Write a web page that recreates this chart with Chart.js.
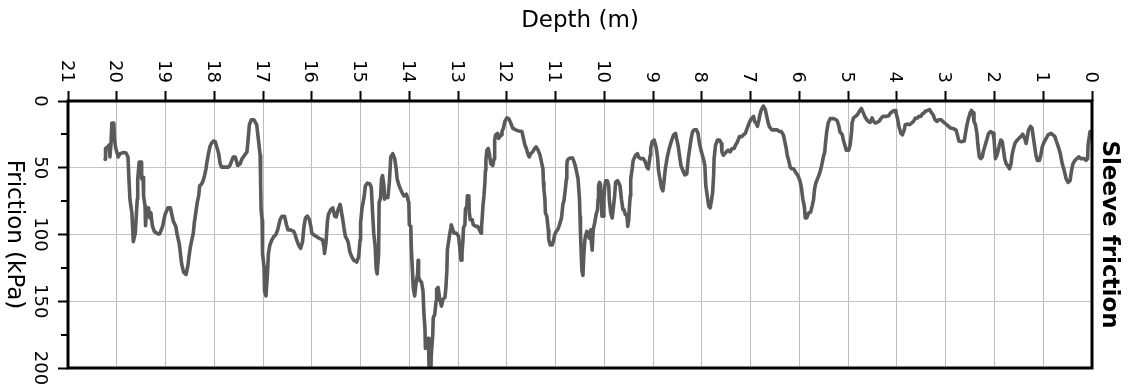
<!DOCTYPE html>
<html>
<head>
<meta charset="utf-8">
<title>Sleeve friction</title>
<script src="https://cdn.jsdelivr.net/npm/chart.js@4.4.1/dist/chart.umd.min.js"></script>
<style>
  html, body { margin: 0; padding: 0; background: #fff; }
  canvas { display: block; }
</style>
</head>
<body>
<canvas id="chart" width="1132" height="387"></canvas>
<script>
// Sleeve friction log (kPa) against depth (m)
const depth = [
  20.24, 20.23, 20.18, 20.16, 20.14, 20.12, 20.10, 20.06, 20.05, 20.02,
  19.99, 19.97, 19.93, 19.86, 19.81, 19.77, 19.75, 19.73, 19.69, 19.66,
  19.62, 19.60, 19.58, 19.57, 19.54, 19.50, 19.49, 19.46, 19.45, 19.42,
  19.41, 19.39, 19.35, 19.32, 19.30, 19.27, 19.23, 19.16, 19.12, 19.06,
  19.01, 18.95, 18.90, 18.87, 18.84, 18.79, 18.76, 18.72, 18.69, 18.67,
  18.63, 18.58, 18.54, 18.52, 18.49, 18.46, 18.43, 18.41, 18.38, 18.35,
  18.32, 18.30, 18.26, 18.23, 18.20, 18.17, 18.15, 18.12, 18.09, 18.06,
  18.02, 17.98, 17.95, 17.91, 17.88, 17.85, 17.78, 17.71, 17.68, 17.64,
  17.61,
  17.57, 17.52, 17.47, 17.43, 17.38, 17.33, 17.31, 17.28, 17.24, 17.19,
  17.13, 17.09, 17.06, 17.05, 17.04, 17.02, 17.01, 16.98, 16.97, 16.94,
  16.91, 16.89, 16.86, 16.82, 16.78, 16.74, 16.70, 16.65, 16.61, 16.56,
  16.52, 16.49, 16.44, 16.37, 16.34, 16.31, 16.27, 16.23, 16.19, 16.16,
  16.13, 16.09, 16.05, 16.02, 16.00, 15.96, 15.90, 15.85, 15.78, 15.75,
  15.74, 15.71, 15.68, 15.66, 15.61, 15.57, 15.53, 15.50, 15.46, 15.42,
  15.40, 15.37, 15.34, 15.31, 15.27, 15.25, 15.22, 15.18, 15.14, 15.08,
  15.04, 15.01, 15.00, 14.97, 14.93, 14.90, 14.86, 14.81, 14.78, 14.75,
  14.73, 14.70, 14.68, 14.66, 14.63, 14.62, 14.59, 14.57, 14.55, 14.52,
  14.51, 14.48, 14.44, 14.41, 14.38, 14.34, 14.30, 14.27, 14.25, 14.21,
  14.18, 14.15, 14.11,
  14.06, 14.01, 14.00, 13.97, 13.96, 13.94, 13.92, 13.89, 13.86, 13.83,
  13.82, 13.81, 13.78, 13.75, 13.72, 13.70, 13.68, 13.67, 13.64, 13.61,
  13.60, 13.59, 13.56, 13.55, 13.52, 13.51, 13.48, 13.45, 13.44, 13.41,
  13.37, 13.34, 13.31, 13.27, 13.25, 13.23, 13.22, 13.20, 13.18, 13.15,
  13.14, 13.11, 13.08, 13.04, 13.01, 12.99, 12.96, 12.94, 12.92, 12.90,
  12.89, 12.86, 12.85, 12.82, 12.81, 12.78, 12.77, 12.75, 12.71, 12.69,
  12.64, 12.60, 12.58, 12.53, 12.52, 12.49, 12.47, 12.45, 12.44, 12.43,
  12.41, 12.38, 12.36, 12.33, 12.29, 12.26, 12.25, 12.23, 12.19, 12.17,
  12.12, 12.10, 12.07, 12.04, 12.00, 11.96, 11.92, 11.88, 11.82, 11.76,
  11.69, 11.66, 11.63, 11.60, 11.56, 11.54, 11.51, 11.47, 11.43, 11.40,
  11.36, 11.32, 11.29, 11.26, 11.25, 11.24, 11.22, 11.21, 11.18, 11.15,
  11.14, 11.11, 11.07, 11.04, 11.02, 10.99, 10.96, 10.93, 10.91, 10.88,
  10.85, 10.83, 10.80, 10.78, 10.77, 10.76, 10.73, 10.69, 10.65, 10.62,
  10.59,
  10.54, 10.51, 10.50, 10.49, 10.47, 10.46, 10.44, 10.42, 10.40, 10.39,
  10.36, 10.34, 10.31, 10.28, 10.27, 10.25, 10.23, 10.20, 10.17, 10.14,
  10.13, 10.12, 10.10, 10.08, 10.06, 10.05, 10.02, 10.01, 9.99, 9.97,
  9.94, 9.91, 9.90, 9.87, 9.84, 9.82, 9.79, 9.77, 9.73, 9.71,
  9.68, 9.65, 9.62, 9.60, 9.57, 9.54, 9.52, 9.50, 9.49, 9.47,
  9.46, 9.43, 9.41, 9.36, 9.32, 9.30, 9.25, 9.20, 9.16, 9.13,
  9.10, 9.08, 9.06, 9.05, 9.02, 8.98, 8.94, 8.91, 8.89, 8.86,
  8.83, 8.80, 8.78, 8.75, 8.71, 8.67, 8.63, 8.58, 8.54, 8.52,
  8.49, 8.46, 8.43, 8.39, 8.35, 8.31, 8.28, 8.24, 8.22, 8.19,
  8.16, 8.11, 8.08, 8.05, 8.01, 7.97, 7.94, 7.92, 7.89, 7.86,
  7.83, 7.80, 7.78, 7.76, 7.75, 7.72, 7.68, 7.64, 7.60, 7.59,
  7.56, 7.53, 7.50, 7.46, 7.42, 7.38, 7.34, 7.31, 7.27, 7.23,
  7.18, 7.15, 7.11,
  7.04, 7.00, 6.97, 6.94, 6.92, 6.89, 6.86, 6.83, 6.81, 6.78,
  6.74, 6.70, 6.67, 6.64, 6.62, 6.57, 6.52, 6.46, 6.41, 6.37,
  6.33, 6.30, 6.27, 6.25, 6.22, 6.19, 6.16, 6.12, 6.08, 6.03,
  5.99, 5.96, 5.93, 5.90, 5.88, 5.85, 5.81, 5.77, 5.74, 5.71,
  5.69, 5.66, 5.63, 5.59, 5.56, 5.53, 5.51, 5.48, 5.47, 5.44,
  5.41, 5.37, 5.30, 5.25, 5.22, 5.19, 5.17, 5.12, 5.10, 5.07,
  5.04, 4.99, 4.96, 4.93, 4.92, 4.89, 4.85, 4.81, 4.77, 4.73,
  4.69, 4.66, 4.62, 4.59, 4.55, 4.51, 4.48, 4.44, 4.40, 4.37,
  4.33, 4.29, 4.25, 4.21, 4.17, 4.13, 4.09, 4.04, 4.02, 3.99,
  3.96, 3.92, 3.89, 3.85, 3.83, 3.79, 3.74, 3.70, 3.66, 3.62,
  3.58, 3.55, 3.51, 3.48, 3.44, 3.42, 3.37, 3.33, 3.29, 3.26,
  3.22, 3.18, 3.14, 3.10, 3.06, 3.02, 2.98, 2.94, 2.90, 2.84,
  2.79, 2.76, 2.73, 2.68, 2.62, 2.60, 2.57, 2.54, 2.50, 2.47,
  2.44, 2.42, 2.39, 2.36, 2.34, 2.31, 2.28, 2.25, 2.23, 2.20,
  2.17, 2.14, 2.12, 2.08, 2.03, 2.01, 1.98, 1.95, 1.93, 1.90,
  1.87, 1.84, 1.82, 1.79, 1.76, 1.73, 1.69, 1.66, 1.64, 1.61,
  1.58, 1.56, 1.53, 1.50, 1.46, 1.42, 1.38, 1.35, 1.32, 1.30,
  1.26, 1.23, 1.20, 1.17, 1.15, 1.12, 1.08, 1.05, 1.02, 0.98,
  0.94, 0.90, 0.84, 0.80, 0.76, 0.74, 0.69, 0.65, 0.61, 0.57,
  0.53, 0.49, 0.45, 0.42, 0.39, 0.35, 0.31, 0.27, 0.23, 0.20,
  0.16, 0.12, 0.09, 0.08, 0.06, 0.04
];

const friction = [
  43.7, 35.6, 34.3, 33, 41.9, 33, 16.5, 16.5, 28, 35.6,
  39.4, 41.9, 39.4, 38.6, 38.9, 41.9, 58.4, 73.6, 83.8, 105.4,
  99, 86.3, 73.6, 58.4, 45.7, 45.7, 58.4, 57.1, 71.1, 78.7,
  93.4, 81.3, 80, 87.6, 83.8, 93.4, 97.7, 99.5, 99.5, 93.9,
  85.1, 80, 80, 85.1, 90.1, 93.9, 100.3, 106.6, 115.5, 121.9,
  128.2, 130, 123.1, 116.8, 109.2, 104.1, 99, 91.4, 83.8, 76.2,
  71.1, 63.5, 62.2, 59.7, 55.9, 50.8, 45.7, 39.4, 34.3, 31.8,
  30, 30.5, 34.3, 39.4, 47, 49.5, 49.5, 49.5, 48.3, 44.5,
  41.9,
  41.9, 48.3, 47, 43.2, 40.6, 38.1, 30.5, 17.8, 14, 14,
  17.8, 30.5, 40.6, 61, 81.3, 88.9, 114.2, 124.4, 142.2, 146,
  129.5, 114.2, 107.9, 104.1, 101.6, 100.3, 96.5, 88.9, 86.3, 86.3,
  92.7, 96.5, 96.5, 97.7, 100.3, 104.1, 107.9, 110.4, 105.4, 93.9,
  87.6, 86.3, 88.9, 93.9, 99, 100.3, 101.6, 102.8, 104.1, 109.2,
  114.2, 106.6, 90.1, 85.1, 81.3, 80, 86.3, 86.8, 81.3, 77.4,
  81.3, 87.6, 95.2, 101.6, 104.1, 106.6, 113, 116.8, 119.3, 120.6,
  116.8, 104.1, 91.4, 80, 72.4, 63.5, 61.5, 62.2, 64.8, 86.3,
  99, 109.2, 125.7, 129.5, 114.2, 76.2, 72.4, 58.4, 55.9, 63.5,
  73.6, 71.1, 72.4, 61, 41.9, 39.4, 43.2, 50.8, 58.4, 63.5,
  66, 68.6, 71.1,
  69.8, 76.2, 92.7, 93.9, 109.2, 124.4, 139.6, 146, 135.8, 129.5,
  119.3, 132, 134.6, 135.8, 142.2, 159.9, 170.1, 185.3, 184, 177.7,
  192.9, 205, 205, 190.4, 175.2, 162.5, 159.9, 149.8, 140.9, 139.6,
  149.8, 153.6, 148.5, 147.2, 139.6, 126.9, 111.7, 106.6, 101.6, 95.2,
  92.7, 96.5, 99, 99, 100.3, 101.6, 111.7, 119.3, 114.2, 104.1,
  95.2, 92.7, 81.3, 78.7, 71.1, 71.1, 83.8, 88.9, 88.9, 92.7,
  93.9, 93.9, 95.2, 99, 95.2, 78.7, 71.1, 61, 52.1, 44.5,
  36.8, 35.6, 39.4, 47, 48.3, 43.2, 29.2, 25.4, 24.2, 28,
  25.4, 22.9, 20.3, 15.3, 12.7, 13.2, 16.5, 20.3, 21.6, 22.4,
  22.9, 28, 33, 35.6, 40.6, 41.9, 39.4, 38.1, 35.6, 34.3,
  36.8, 40.6, 45.7, 50.8, 61, 66, 73.6, 83.8, 86.3, 96.5,
  104.1, 107.9, 107.9, 104.1, 100.3, 97.7, 96.5, 93.9, 91.4, 87.6,
  77.4, 74.9, 66, 58.4, 48.3, 44.5, 43.2, 42.7, 42.7, 45.7,
  49.5,
  58.4, 73.6, 86.3, 99, 119.3, 126.9, 130.7, 114.2, 104.1, 101.6,
  97.7, 100.3, 102.8, 96.5, 104.1, 111.7, 96.5, 91.4, 85.1, 81.3,
  73.6, 63.5, 61, 62.2, 73.6, 86.3, 86.3, 73.6, 63.5, 59.7,
  59.7, 63.5, 73.6, 83.8, 87.6, 81.3, 71.1, 61, 59.7, 61,
  63.5, 73.6, 81.3, 81.3, 85.1, 85.1, 93.9, 88.9, 81.3, 71.1,
  58.4, 50.8, 44.5, 40.6, 39.4, 41.9, 43.2, 43.2, 45.7, 49.5,
  50.8, 45.7, 40.6, 35.6, 30.5, 29.2, 34.3, 41.9, 52.1, 58.4,
  64.8, 67.3, 61, 50.8, 41.9, 35.6, 30.5, 25.4, 24.2, 28,
  33, 40.6, 48.3, 52.1, 55.4, 54.6, 43.2, 33, 28, 22.9,
  21.6, 21.6, 24.2, 31.8, 38.1, 43.2, 48.3, 63.5, 71.1, 78.7,
  80, 73.6, 68.6, 55.9, 43.2, 33, 29.2, 29.2, 31.8, 38.1,
  40.6, 39.4, 38.1, 36.8, 38.1, 35.6, 35.6, 33, 30.5, 26.7,
  26.7, 25.4, 24.2,
  17.3, 14, 12.7, 11.5, 15.3, 16.5, 19, 14, 10.2, 6.4,
  3.8, 6.4, 11.5, 16.5, 19, 21.6, 21.6, 21.6, 22.9, 22.9,
  25.4, 30.5, 35.6, 40.6, 44.5, 49.5, 50.8, 50.8, 53.3, 55.9,
  59.7, 64.8, 73.6, 78.7, 87.6, 87.6, 83.8, 83.3, 78.7, 73.6,
  66, 61, 58.4, 54.6, 50.8, 45.7, 41.9, 38.1, 33, 22.9,
  16.5, 13.2, 13.2, 14, 15.3, 19, 22.9, 25.4, 29.2, 33,
  36.8, 36.8, 33, 22.9, 16.5, 12.7, 11.5, 10.2, 7.7, 5.6,
  8.9, 11.5, 14, 15.3, 16, 12.7, 15.3, 16.5, 15.8, 15.3,
  13.2, 11.5, 11.5, 11.5, 11, 8.9, 7.7, 7.1, 8.9, 12.7,
  19, 24.2, 25.4, 21.6, 17.8, 17.3, 17.8, 16.5, 15.3, 12.7,
  12.7, 11.5, 11.5, 9.7, 8.9, 7.7, 7.1, 6.4, 8.9, 10.2,
  14, 15.3, 14, 14, 15.3, 16.5, 17.8, 19, 20.3, 20.8,
  21.6, 25.4, 30, 30.5, 30, 25.4, 19, 14, 8.9, 7.1,
  8.9, 15.3, 17.8, 24.2, 33, 41.9, 43.2, 41.9, 38.1, 34.3,
  30.5, 26.7, 24.2, 22.9, 24.2, 28, 43.2, 40.6, 38.1, 33,
  29.2, 30.5, 35.6, 43.2, 47, 48.3, 50.8, 47, 40.6, 35.6,
  31.8, 30.5, 29.2, 28, 26.7, 24.9, 28, 31.8, 25.4, 21.6,
  19, 20.3, 28, 35.6, 40.6, 44.5, 44.5, 40.6, 34.3, 30.5,
  28, 25.4, 24.2, 25.4, 26.7, 29.2, 34.3, 39.4, 47, 52.1,
  58.4, 61, 59.7, 52.1, 47, 44.5, 43.2, 41.9, 43.2, 43.2,
  43.2, 44.5, 43.2, 33, 28, 22.9
];

// Axis ticks and labels
const depthTicks = [0, 1, 2, 3, 4, 5, 6, 7, 8, 9, 10, 11, 12, 13, 14, 15, 16, 17, 18, 19, 20, 21];
const frictionTicks = [0, 50, 100, 150, 200];
const frictionMinorTicks = [25, 75, 125, 175];
const depthTitle = 'Depth (m)';
const frictionTitle = 'Friction (kPa)';
const panelTitle = 'Sleeve friction';

const points = depth.map((d, i) => ({ x: d, y: friction[i] }));

const FONT = '"DejaVu Sans", Verdana, sans-serif';

// Draws the frame, the minor ticks and all text (labels read top-to-bottom)
const decorations = {
  id: 'decorations',
  afterDatasetsDraw(chart) {
    const { ctx, chartArea: a, scales: { x, y } } = chart;
    ctx.save();

    // minor friction ticks
    ctx.strokeStyle = '#000';
    ctx.lineWidth = 2;
    frictionMinorTicks.forEach(v => {
      const py = Math.round(y.getPixelForValue(v));
      ctx.beginPath();
      ctx.moveTo(a.left - 7, py);
      ctx.lineTo(a.left, py);
      ctx.stroke();
    });

    // frame
    ctx.lineWidth = 3;
    ctx.strokeRect(a.left, a.top, a.right - a.left, a.bottom - a.top);

    ctx.fillStyle = '#000';

    // depth tick labels
    ctx.font = '18px ' + FONT;
    depthTicks.forEach(d => {
      const px = x.getPixelForValue(d);
      ctx.save();
      ctx.translate(px - 6.5, a.top - 18);
      ctx.rotate(Math.PI / 2);
      ctx.textAlign = 'right';
      ctx.textBaseline = 'alphabetic';
      ctx.fillText(String(d), 0, 0);
      ctx.restore();
    });

    // friction tick labels
    frictionTicks.forEach(v => {
      const py = y.getPixelForValue(v);
      ctx.save();
      ctx.translate(a.left - 33, py);
      ctx.rotate(Math.PI / 2);
      ctx.textAlign = 'center';
      ctx.textBaseline = 'alphabetic';
      ctx.fillText(String(v), 0, 0);
      ctx.restore();
    });

    const midY = (a.top + a.bottom) / 2;

    // depth axis title
    ctx.font = '23px ' + FONT;
    ctx.textAlign = 'center';
    ctx.textBaseline = 'alphabetic';
    ctx.fillText(depthTitle, (a.left + a.right) / 2, 27);

    // friction axis title
    ctx.save();
    ctx.translate(8, midY);
    ctx.rotate(Math.PI / 2);
    ctx.textAlign = 'center';
    ctx.fillText(frictionTitle, 0, 0);
    ctx.restore();

    // panel title on the right
    ctx.save();
    ctx.font = 'bold 23px ' + FONT;
    ctx.translate(a.right + 11, midY);
    ctx.rotate(Math.PI / 2);
    ctx.textAlign = 'center';
    ctx.fillText(panelTitle, 0, 0);
    ctx.restore();

    ctx.restore();
  }
};

new Chart(document.getElementById('chart'), {
  type: 'line',
  data: {
    datasets: [{
      data: points,
      borderColor: '#5a5a5a',
      borderWidth: 3.6,
      borderJoinStyle: 'round',
      borderCapStyle: 'round',
      pointRadius: 0,
      tension: 0,
      fill: false
    }]
  },
  options: {
    responsive: false,
    animation: false,
    layout: { padding: { top: 91, left: 58, right: 40, bottom: 19 } },
    plugins: { legend: { display: false }, tooltip: { enabled: false } },
    scales: {
      x: {
        type: 'linear',
        position: 'top',
        reverse: true,
        min: 0,
        max: 21,
        ticks: { display: false, stepSize: 1 },
        grid: { color: '#bdbdbd', lineWidth: 1, tickLength: 10, tickColor: '#000', tickWidth: 2 },
        border: { display: false }
      },
      y: {
        type: 'linear',
        position: 'left',
        reverse: true,
        min: 0,
        max: 200,
        ticks: { display: false, stepSize: 50 },
        grid: { color: '#c4c4c4', lineWidth: 1, tickLength: 10, tickColor: '#000', tickWidth: 2 },
        border: { display: false }
      }
    }
  },
  plugins: [decorations]
});
</script>
</body>
</html>
